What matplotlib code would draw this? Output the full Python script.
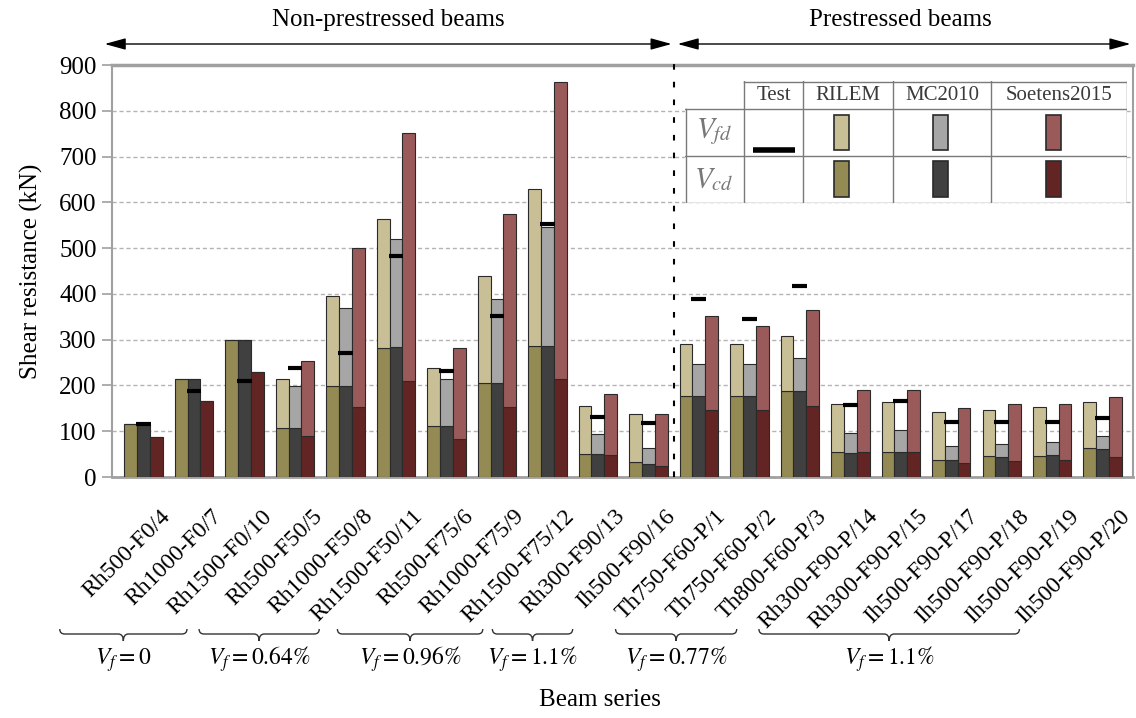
import matplotlib
matplotlib.use("Agg")
import matplotlib.pyplot as plt
import numpy as np
from matplotlib.path import Path
from matplotlib.patches import PathPatch, Rectangle
from matplotlib.transforms import IdentityTransform, blended_transform_factory

plt.rcParams["font.family"] = ["Liberation Serif", "DejaVu Serif"]
plt.rcParams["mathtext.fontset"] = "stix"

# ---- data -------------------------------------------------------------
beams = ["Rh500-F0/4", "Rh1000-F0/7", "Rh1500-F0/10", "Rh500-F50/5", "Rh1000-F50/8",
         "Rh1500-F50/11", "Rh500-F75/6", "Rh1000-F75/9", "Rh1500-F75/12", "Rh300-F90/13",
         "Ih500-F90/16", "Th750-F60-P/1", "Th750-F60-P/2", "Th800-F60-P/3", "Rh300-F90-P/14",
         "Rh300-F90-P/15", "Ih500-F90-P/17", "Ih500-F90-P/18", "Ih500-F90-P/19", "Ih500-F90-P/20"]

v_test = [115, 187, 209, 238, 271, 483, 232, 351, 552, 131,
          119, 389, 345, 418, 158, 167, 120, 120, 120, 129]

# concrete contribution V_cd and fibre contribution V_fd (kN)
rilem_cd = [115, 214, 300, 108, 199, 282, 112, 205, 287, 50,
            32, 177, 177, 187, 54, 55, 37, 45, 45, 63]
rilem_fd = [0, 0, 0, 106, 197, 281, 126, 235, 342, 106,
            105, 114, 114, 120, 106, 109, 105, 102, 107, 101]
mc_cd = [115, 214, 300, 108, 199, 283, 112, 205, 287, 50,
         28, 177, 177, 187, 53, 55, 37, 44, 47, 61]
mc_fd = [0, 0, 0, 91, 171, 237, 102, 184, 260, 44,
         35, 70, 70, 73, 44, 48, 31, 29, 29, 28]
soet_cd = [88, 165, 230, 90, 152, 209, 83, 152, 214, 49,
           25, 147, 147, 156, 54, 55, 31, 35, 37, 44]
soet_fd = [0, 0, 0, 164, 349, 542, 198, 423, 648, 133,
           112, 205, 183, 209, 135, 136, 120, 124, 122, 130]

methods = ["RILEM", "MC2010", "Soetens2015"]
vf_groups = [r"$V_f = 0$", r"$V_f = 0.64\%$", r"$V_f = 0.96\%$", r"$V_f = 1.1\%$",
             r"$V_f = 0.77\%$", r"$V_f = 1.1\%$"]
y_ticks = [0, 100, 200, 300, 400, 500, 600, 700, 800, 900]

# ---- styling ------------------------------------------------------------
cd_colors = ["#948a54", "#404040", "#632523"]
fd_colors = ["#c9bf96", "#a6a6a6", "#9b5a5a"]
edge = "#2a2a2a"
axis_gray = "#a0a0a0"

W, H = 1136, 718
fig = plt.figure(figsize=(W / 100, H / 100), dpi=100)
ax = fig.add_axes([112 / W, 1 - 477 / H, (1133 - 112) / W, (477 - 65) / H])

x = np.arange(len(beams))
w = 0.254
series = [(rilem_cd, rilem_fd), (mc_cd, mc_fd), (soet_cd, soet_fd)]
for k, (cd, fd) in enumerate(series):
    xs = x + (k - 1) * w
    ax.bar(xs, cd, w, color=cd_colors[k], edgecolor=edge, linewidth=0.8, zorder=3)
    ax.bar(xs, fd, w, bottom=cd, color=fd_colors[k], edgecolor=edge, linewidth=0.8, zorder=3)

ax.hlines(v_test, x - w / 2 - 0.02, x + w / 2 + 0.02, colors="black", linewidth=3.0, zorder=4)

ax.set_xlim(-0.625, 19.6)
ax.set_ylim(0, 900)
ax.set_yticks(y_ticks)
ax.set_yticklabels([str(t) for t in y_ticks], fontsize=18)
ax.tick_params(axis="y", length=7, width=1.2, color=axis_gray, pad=4)
ax.set_xticks([])
ax.grid(axis="y", color="#b4b4b4", linestyle=(0, (3, 2)), linewidth=1.0, zorder=0)
for side in ["left", "right", "bottom", "top"]:
    ax.spines[side].set_color(axis_gray)
    ax.spines[side].set_linewidth(1.5)
ax.spines["top"].set_linewidth(2.5)
ax.spines["bottom"].set_linewidth(2.0)
ax.set_ylabel("Shear resistance (kN)", fontsize=18, labelpad=12)

# rotated beam names
xlab_tr = ax.get_xaxis_transform()
for i, name in enumerate(beams):
    ax.text(i + 0.33, -0.07, name, transform=xlab_tr, rotation=45, rotation_mode="anchor",
            ha="right", va="top", fontsize=17)

# split between non-prestressed and prestressed beams
split = 10.5
ax.axvline(split, ymin=0, ymax=1.017, color="black", linestyle=(0, (2.7, 5.8)),
           linewidth=1.5, clip_on=False, zorder=5)

arrow_tr = blended_transform_factory(ax.transData, fig.transFigure)
y_arrow = 1 - 44 / H
arrow_kw = dict(arrowstyle="<|-|>,head_length=0.8,head_width=0.22", color="black",
                linewidth=1.0, shrinkA=0, shrinkB=0, mutation_scale=16)
ax.annotate("", xy=(-0.77, y_arrow), xytext=(split - 0.04, y_arrow),
            xycoords=arrow_tr, textcoords=arrow_tr, arrowprops=arrow_kw, annotation_clip=False)
ax.annotate("", xy=(split + 0.08, y_arrow), xytext=(19.55, y_arrow),
            xycoords=arrow_tr, textcoords=arrow_tr, arrowprops=arrow_kw, annotation_clip=False)
ax.text(4.85, 1 - 20 / H, "Non-prestressed beams", transform=arrow_tr, ha="center",
        va="center", fontsize=18)
ax.text(15.0, 1 - 20 / H, "Prestressed beams", transform=arrow_tr, ha="center",
        va="center", fontsize=18)

# fibre-volume braces below the beam names
brace_spans = [(-1.66, 0.86), (1.10, 3.48), (3.84, 6.72), (6.91, 8.50),
               (9.35, 11.75), (12.19, 17.35)]
fig.canvas.draw()


def draw_brace(x0d, x1d):
    px0 = ax.transData.transform((x0d, 0))[0]
    px1 = ax.transData.transform((x1d, 0))[0]
    pc = 0.5 * (px0 + px1)
    yt, ym, yb, r = H - 629, H - 634, H - 641, 5
    verts = [(px0, yt), (px0, ym), (px0 + r, ym), (pc - r, ym), (pc, ym), (pc, yb),
             (pc, ym), (pc + r, ym), (px1 - r, ym), (px1, ym), (px1, yt)]
    codes = [Path.MOVETO, Path.CURVE3, Path.CURVE3, Path.LINETO, Path.CURVE3, Path.CURVE3,
             Path.CURVE3, Path.CURVE3, Path.LINETO, Path.CURVE3, Path.CURVE3]
    fig.add_artist(PathPatch(Path(verts, codes), transform=IdentityTransform(),
                             facecolor="none", edgecolor="#333333", linewidth=1.0))
    return pc


for (a, b), lab in zip(brace_spans, vf_groups):
    pc = draw_brace(a, b)
    fig.text(pc / W, 1 - 665 / H, lab, ha="center", va="baseline", fontsize=17)

fig.text(600 / W, 1 - 700 / H, "Beam series", ha="center", va="center", fontsize=18)

# ---- legend table ------------------------------------------------------
lx0, lx1, ly0, ly1 = 685, 1127, 81, 203
lg = fig.add_axes([lx0 / W, 1 - ly1 / H, (lx1 - lx0) / W, (ly1 - ly0) / H], zorder=10)
lg.set_xlim(lx0, lx1)
lg.set_ylim(ly1, ly0)
lg.axis("off")
lg.add_patch(Rectangle((lx0, ly0), lx1 - lx0, ly1 - ly0, facecolor="white", edgecolor="none"))
line_c = "#7a7a7a"
col_x = [744, 803, 893, 991, 1127]
row_y = [109, 156, 203]
lg.plot([744, 1127], [81.5, 81.5], color=line_c, lw=1.0)
for yy in row_y:
    lg.plot([685, 1127], [yy - 0.5, yy - 0.5], color=line_c, lw=1.0)
lg.plot([685.5, 685.5], [109, 203], color=line_c, lw=1.0)
for xx in col_x:
    lg.plot([xx - 0.5, xx - 0.5], [81, 203], color=line_c, lw=1.0)
headers = ["Test"] + methods
for j, hname in enumerate(headers):
    lg.text(0.5 * (col_x[j] + col_x[j + 1]), 96, hname, ha="center", va="center",
            fontsize=15, color="#3a3a3a")
lg.text(714, 132, r"$V_{fd}$", ha="center", va="center", fontsize=21, color="#777777")
lg.text(714, 180, r"$V_{cd}$", ha="center", va="center", fontsize=21, color="#777777")
lg.plot([753, 795], [150, 150], color="black", lw=4.0, solid_capstyle="butt")
sw_centers = [841, 940, 1053]
for j, cx in enumerate(sw_centers):
    lg.add_patch(Rectangle((cx - 7.5, 115), 15, 35, facecolor=fd_colors[j],
                           edgecolor=edge, linewidth=1.2))
    lg.add_patch(Rectangle((cx - 7.5, 161), 15, 36, facecolor=cd_colors[j],
                           edgecolor=edge, linewidth=1.2))

fig.savefig("out.png", dpi=100)
